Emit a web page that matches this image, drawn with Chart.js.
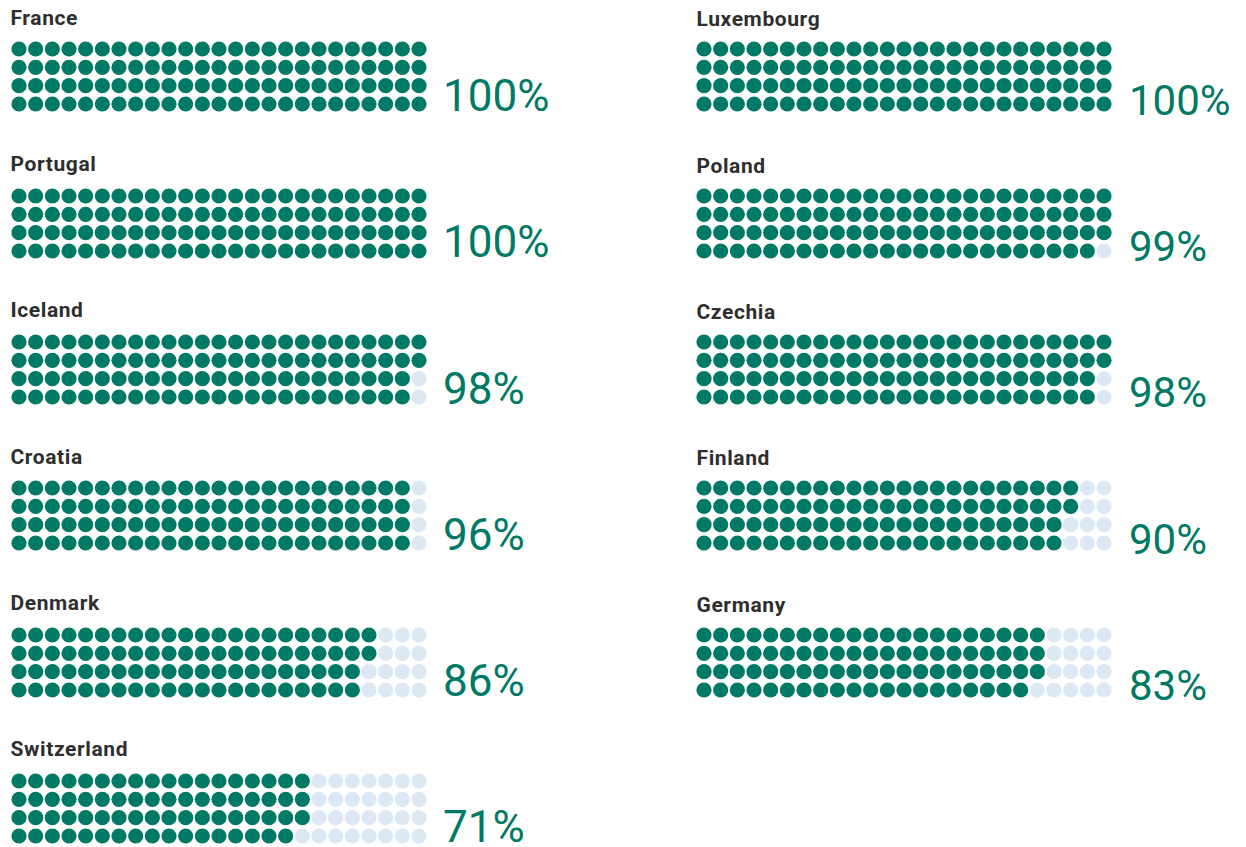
<!DOCTYPE html>
<html>
<head>
<meta charset="utf-8">
<script src="https://cdn.jsdelivr.net/npm/chart.js@4/dist/chart.umd.min.js"></script>
<style>
  html, body { margin: 0; padding: 0; background: #ffffff; }
  body { width: 1246px; height: 847px; position: relative; overflow: hidden; font-family: Roboto, "Noto Sans", sans-serif; }
  .title { position: absolute; font-weight: 700; font-size: 21px; line-height: 21px; letter-spacing: 0.6px; color: #2e2e2e; white-space: nowrap; }
  .pct { position: absolute; font-weight: 400; line-height: 1; color: #007a64; white-space: nowrap; }
  canvas.waffle { position: absolute; }
</style>
</head>
<body>
<script>
// ---- Data ----
const countries = ['France', 'Luxembourg', 'Portugal', 'Poland', 'Iceland', 'Czechia', 'Croatia', 'Finland', 'Denmark', 'Germany', 'Switzerland'];
const shares = [100, 100, 100, 99, 98, 98, 96, 90, 86, 83, 71];
const percentLabels = ['100%', '100%', '100%', '99%', '98%', '98%', '96%', '90%', '86%', '83%', '71%'];

// ---- Grid / style ----
const GRID_COLS = 25, GRID_ROWS = 4;
const FILLED = '#007a64';
const EMPTY = '#dce8f3';
const PANEL_PITCH = 146.3;
const TITLE_SIZE = 21;
const COLUMN_LAYOUT = [
  { dotX0: 19, dotY0: 49.3, titleX: 10.5, titleBase: 25.5, pctX: 443, pctBase: 111, pctSize: 44 },
  { dotX0: 704, dotY0: 49.3, titleX: 696.5, titleBase: 27, pctX: 1129, pctBase: 115, pctSize: 42 }
];
const PAD = 8;
const SPAN_X = 400, SPAN_Y = 55;

countries.forEach((name, i) => {
  const L = COLUMN_LAYOUT[i % 2];
  const r = Math.floor(i / 2);
  const off = r * PANEL_PITCH;

  const t = document.createElement('div');
  t.className = 'title';
  t.textContent = name;
  t.style.left = L.titleX + 'px';
  t.style.top = (L.titleBase + off - 0.8415 * TITLE_SIZE) + 'px';
  document.body.appendChild(t);

  const p = document.createElement('div');
  p.className = 'pct';
  p.textContent = percentLabels[i];
  p.style.fontSize = L.pctSize + 'px';
  p.style.left = L.pctX + 'px';
  p.style.top = (L.pctBase + off - 0.8415 * L.pctSize) + 'px';
  document.body.appendChild(p);

  const c = document.createElement('canvas');
  c.className = 'waffle';
  const w = SPAN_X + 2 * PAD, h = SPAN_Y + 2 * PAD;
  c.width = w; c.height = h;
  c.style.width = w + 'px'; c.style.height = h + 'px';
  c.style.left = (L.dotX0 - PAD) + 'px';
  c.style.top = (L.dotY0 + off - PAD) + 'px';
  document.body.appendChild(c);

  const filled = [], empty = [];
  for (let k = 0; k < GRID_COLS * GRID_ROWS; k++) {
    const pt = { x: Math.floor(k / GRID_ROWS), y: k % GRID_ROWS };
    (k < shares[i] ? filled : empty).push(pt);
  }

  new Chart(c, {
    type: 'scatter',
    data: {
      datasets: [
        { data: filled, backgroundColor: FILLED, borderWidth: 0, pointRadius: 7.6, pointHoverRadius: 7.6, clip: false },
        { data: empty, backgroundColor: EMPTY, borderWidth: 0, pointRadius: 7.6, pointHoverRadius: 7.6, clip: false }
      ]
    },
    options: {
      responsive: false,
      animation: false,
      devicePixelRatio: 1,
      layout: { padding: PAD },
      plugins: { legend: { display: false }, tooltip: { enabled: false } },
      events: [],
      scales: {
        x: { type: 'linear', min: 0, max: GRID_COLS - 1, display: false },
        y: { type: 'linear', min: 0, max: GRID_ROWS - 1, reverse: true, display: false }
      }
    }
  });
});
</script>
</body>
</html>
